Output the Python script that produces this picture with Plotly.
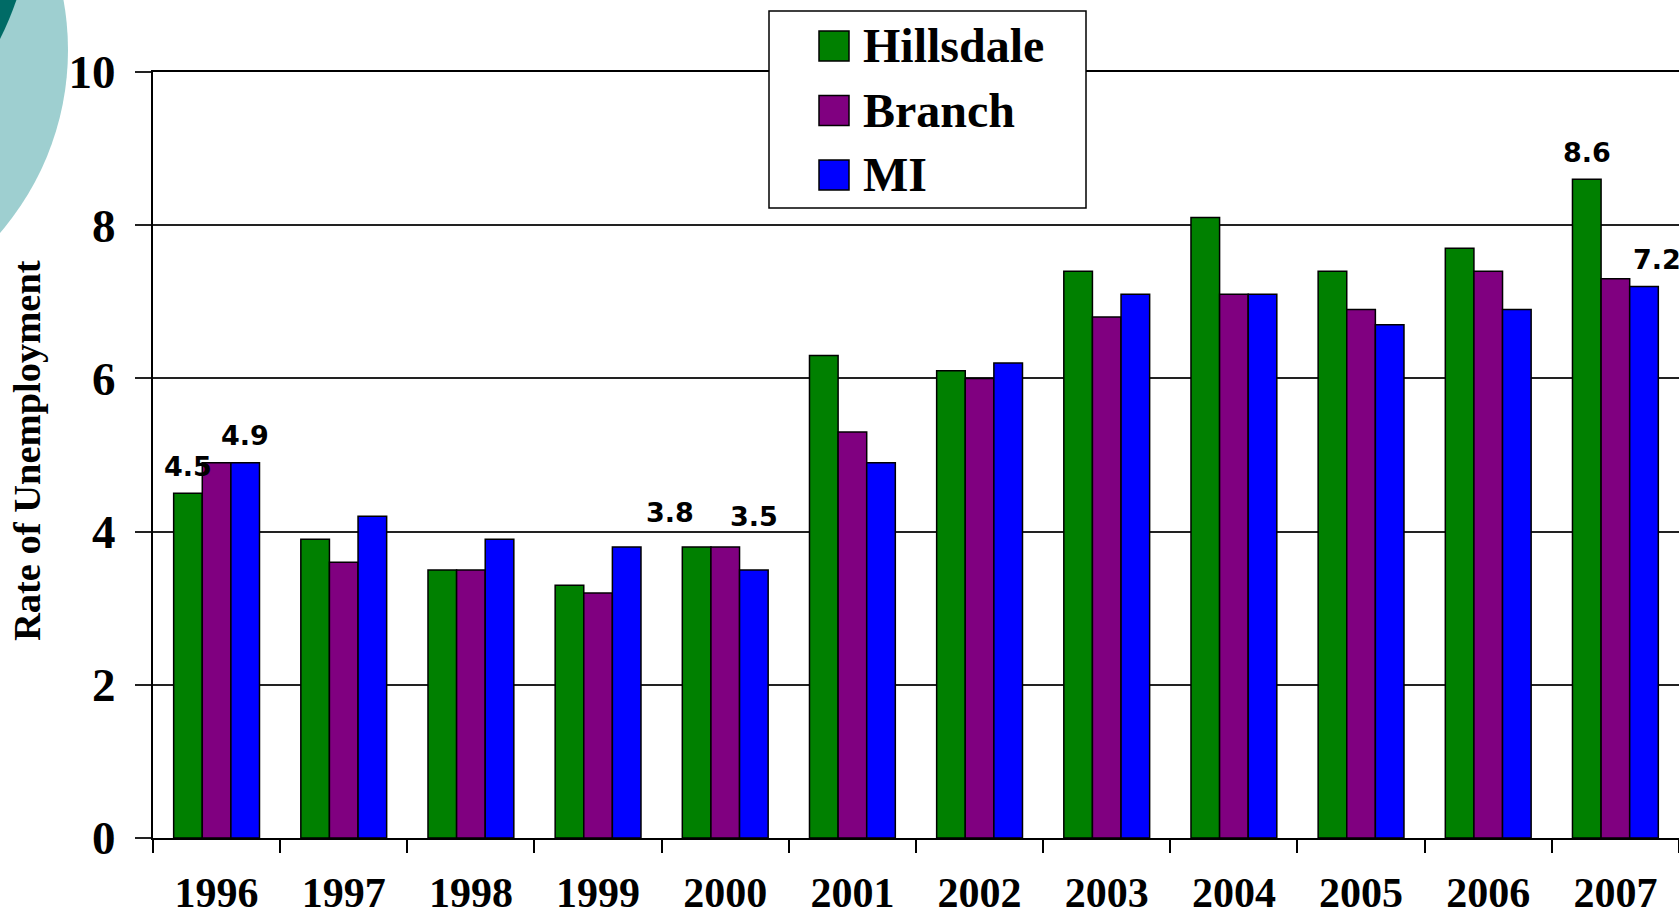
import plotly.graph_objects as go

# unemployment rate by year
years = ["1996", "1997", "1998", "1999", "2000", "2001",
         "2002", "2003", "2004", "2005", "2006", "2007"]
hillsdale = [4.5, 3.9, 3.5, 3.3, 3.8, 6.3, 6.1, 7.4, 8.1, 7.4, 7.7, 8.6]
branch = [4.9, 3.6, 3.5, 3.2, 3.8, 5.3, 6.0, 6.8, 7.1, 6.9, 7.4, 7.3]
michigan = [4.9, 4.2, 3.9, 3.8, 3.5, 4.9, 6.2, 7.1, 7.1, 6.7, 6.9, 7.2]

series_names = ["Hillsdale", "Branch", "MI"]
series_values = [hillsdale, branch, michigan]
series_colors = ["#008000", "#800080", "#0000FF"]

# which bars carry a value label: (series index, year)
labelled = [(0, "1996"), (2, "1996"), (0, "2000"), (2, "2000"),
            (0, "2007"), (2, "2007")]
# small nudges (px) for labels that sit off the usual spot
nudges = {(0, "2000"): (-27, 7), (2, "2000"): (0, 26), (2, "2007"): (13, 0)}

# the chart runs a few px past the right edge of the window, as in the original
W, H = 1683, 918
L, R, T, B = 153, 0, 72, 80
BARGAP = 0.325

serif = "Liberation Serif, Times New Roman, serif"
sans = "DejaVu Sans, Verdana, sans-serif"


def px(x):
    return (x - L) / (W - L - R)


def py(y):
    return (H - B - y) / (H - T - B)


fig = go.Figure()
for name, vals, col in zip(series_names, series_values, series_colors):
    fig.add_trace(go.Bar(
        x=years, y=vals, name=name,
        marker=dict(color=col, line=dict(color="black", width=1.5)),
        showlegend=False,
    ))

# value labels above selected bars
bar_w = (1 - BARGAP) / len(series_names)
annotations = []
for s, yr in labelled:
    i = years.index(yr)
    dx, dy = nudges.get((s, yr), (0, 0))
    annotations.append(dict(
        x=i + (s - 1) * bar_w, y=series_values[s][i],
        xref="x", yref="y", text=f"{series_values[s][i]:.1f}",
        showarrow=False, yanchor="middle", xanchor="center",
        xshift=dx, yshift=27 + dy,
        font=dict(family=sans, size=27, color="black", weight="bold"),
    ))

# y axis title
annotations.append(dict(
    x=px(27), y=py(451), xref="paper", yref="paper",
    xanchor="center", yanchor="middle",
    text="Rate of Unemployment", textangle=-90, showarrow=False,
    font=dict(family=serif, size=38.5, color="black", weight="bold"),
))

shapes = [
    # decorative circles at the top-left corner
    dict(type="circle", xref="paper", yref="paper", layer="below",
         x0=px(-492), x1=px(68), y0=py(-230), y1=py(330),
         fillcolor="#9ECFD0", line=dict(width=0)),
    dict(type="circle", xref="paper", yref="paper", layer="below",
         x0=px(-635), x1=px(35), y0=py(-445), y1=py(225),
         fillcolor="#006B66", line=dict(width=0)),
    # hand-made legend so the swatches match the big text
    dict(type="rect", xref="paper", yref="paper", layer="above",
         x0=px(769), x1=px(1086), y0=py(208), y1=py(11),
         fillcolor="white", line=dict(color="black", width=1.5)),
]
for k, (name, col) in enumerate(zip(series_names, series_colors)):
    cy = 46 + k * 64.5
    shapes.append(dict(
        type="rect", xref="paper", yref="paper", layer="above",
        x0=px(819), x1=px(849), y0=py(cy + 15), y1=py(cy - 15),
        fillcolor=col, line=dict(color="black", width=1.5),
    ))
    annotations.append(dict(
        x=px(861), y=py(cy), xref="paper", yref="paper", text=name,
        showarrow=False, xanchor="left", yanchor="middle",
        font=dict(family=serif, size=48, color="black", weight="bold"),
    ))

fig.update_layout(
    width=W, height=H,
    margin=dict(l=L, r=R, t=T, b=B, autoexpand=False),
    barmode="group", bargap=BARGAP, bargroupgap=0,
    plot_bgcolor="white", paper_bgcolor="white",
    shapes=shapes, annotations=annotations,
)
fig.update_xaxes(
    type="category", tickson="boundaries", ticks="outside",
    ticklen=13, tickwidth=2, tickcolor="black",
    showline=True, linecolor="black", linewidth=2, mirror=True,
    showgrid=False, ticklabelstandoff=17,
    tickfont=dict(family=serif, size=42, color="black", weight="bold"),
)
fig.update_yaxes(
    range=[0, 10], dtick=2, ticks="outside", ticklen=16,
    tickwidth=2, tickcolor="#222",
    showline=True, linecolor="black", linewidth=2,
    showgrid=True, gridcolor="#222", gridwidth=2, zeroline=False,
    ticklabelstandoff=10,
    tickfont=dict(family=serif, size=47, color="black", weight="bold"),
)

# no page margin and no scrollbars, so the figure sits at the corner
fig.write_html(
    "out.html",
    config={"displayModeBar": False},
    post_script="document.body.style.margin='0';"
                "document.body.style.overflow='hidden';",
)
